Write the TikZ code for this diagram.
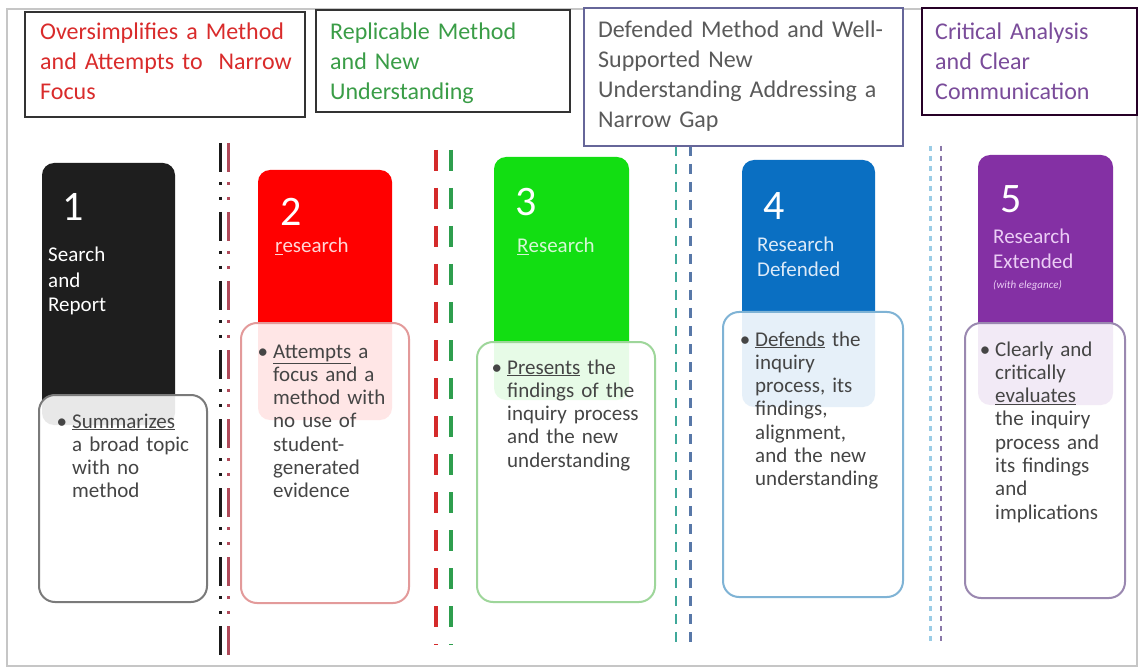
\documentclass[tikz,border=0pt]{standalone}
\usepackage{fontspec}
\setmainfont{Carlito}
\definecolor{hred}{HTML}{D92B2B}
\definecolor{hgreen}{HTML}{3A9D47}
\definecolor{hgray}{HTML}{5A5A5A}
\definecolor{hpurple}{HTML}{7A4C9A}
\definecolor{cardone}{HTML}{1E1E1E}
\definecolor{cardtwo}{HTML}{FF0000}
\definecolor{cardthree}{HTML}{12DE12}
\definecolor{cardfour}{HTML}{0A6FC2}
\definecolor{cardfive}{HTML}{8430A4}
\definecolor{boxone}{HTML}{7A7A7A}
\definecolor{boxtwo}{HTML}{E39A9A}
\definecolor{boxthree}{HTML}{9ED69A}
\definecolor{boxfour}{HTML}{7FB3D5}
\definecolor{boxfive}{HTML}{9A88B0}
\definecolor{sepblack}{HTML}{1A1A1A}
\definecolor{sepwine}{HTML}{B04A5A}
\definecolor{sepred}{HTML}{D42A2A}
\definecolor{sepgreen}{HTML}{2E9E4E}
\definecolor{septeal}{HTML}{3FA89A}
\definecolor{sepblue}{HTML}{5878A8}
\definecolor{sepsky}{HTML}{9ACCE6}
\definecolor{seplilac}{HTML}{8A78A8}
\definecolor{bodygray}{HTML}{454545}
\definecolor{labtwo}{HTML}{FFD6D6}
\definecolor{labthree}{HTML}{D4F8D4}
\definecolor{labfour}{HTML}{DCEAF8}
\definecolor{labfive}{HTML}{EBCDF5}

\begin{document}
\begin{tikzpicture}[x=1pt,y=-1pt]
   \tikzset{HeadBox/.style={line width=2pt, draw=black!80, fill=white}}
   \tikzset{HeadText/.style={anchor=base west, inner sep=0pt, text width=300pt, align=left, font=\fontsize{24}{30}\selectfont}}
   \tikzset{NumText/.style={anchor=base west, inner sep=0pt, font=\fontsize{42}{42}\selectfont}}
   \tikzset{CardText/.style={anchor=base west, inner sep=0pt, text width=120pt, align=left, font=\fontsize{21}{25}\selectfont}}
   \tikzset{BodyText/.style={anchor=base west, inner sep=0pt, text width=170pt, align=left, text=bodygray, font=\fontsize{21}{23.3}\selectfont}}
   \tikzset{Card/.style={rounded corners=12pt}}
   \tikzset{WhiteBox/.style={line width=2pt, fill=white, fill opacity=0.9, rounded corners=16pt}}
   \newcommand{\blt}{\leavevmode\llap{\textbullet\hspace{5pt}}}

   \fill[white] (0,0) rectangle (1143,668);
   \useasboundingbox (0,0) rectangle (1143,668);
   \draw[gray!45, line width=1.5pt] (7,9) rectangle (1137,666);

   \draw[sepblack, line width=3pt, dash pattern=on 29pt off 10pt on 3pt off 12pt on 3pt off 12pt] (220,143) -- (220,662);
   \draw[sepwine, line width=3pt, dash pattern=on 29pt off 10pt on 3pt off 12pt on 3pt off 12pt] (228,143) -- (228,662);
   \draw[sepred, line width=4pt, dash pattern=on 21pt off 17pt] (436,150) -- (436,645);
   \draw[sepgreen, line width=4pt, dash pattern=on 21pt off 17pt] (451,150) -- (451,645);
   \draw[septeal, line width=2.5pt, dash pattern=on 10pt off 8pt] (676,146) -- (676,642);
   \draw[sepblue, line width=3pt, dash pattern=on 10pt off 8pt] (690,146) -- (690,642);
   \draw[sepsky, line width=3pt, dash pattern=on 5pt off 5pt] (930,146) -- (930,643);
   \draw[seplilac, line width=2pt, dash pattern=on 5pt off 5pt] (941,146) -- (941,643);

   \draw[HeadBox] (25,12) rectangle (305,117);
   \draw[HeadBox] (316,10) rectangle (570,112);
   \draw[HeadBox, draw=gray!80!blue, line width=1.5pt] (584,8) rectangle (903,146);
   \draw[HeadBox, draw=black!70!violet] (922,8) rectangle (1137,115);
   \node[HeadText, text=hred] (h1) at (40,40) {Oversimplifies a Method\\and Attempts to~~Narrow\\Focus};
   \node[HeadText, text=hgreen] (h2) at (330,40) {Replicable Method\\and New\\Understanding};
   \node[HeadText, text=hgray] (h3) at (598,38) {Defended Method and Well-\\Supported New\\Understanding Addressing a\\Narrow Gap};
   \node[HeadText, text=hpurple] (h4) at (935,40) {Critical Analysis\\and Clear\\Communication};

   \fill[Card, cardone] (42,163) rectangle (175,425);
   \fill[Card, cardtwo] (258,170) rectangle (392,420);
   \fill[Card, cardthree] (494,157) rectangle (629,400);
   \fill[Card, cardfour] (742,160) rectangle (875,407);
   \fill[Card, cardfive] (978,155) rectangle (1113,405);
   \draw[WhiteBox, draw=boxone] (39,395) rectangle (207,602);
   \draw[WhiteBox, draw=boxtwo] (241,323) rectangle (409,603);
   \draw[WhiteBox, draw=boxthree] (477,342) rectangle (655,602);
   \draw[WhiteBox, draw=boxfour] (723,312) rectangle (903,597);
   \draw[WhiteBox, draw=boxfive] (965,323) rectangle (1125,598);

   \node[NumText, text=white] (n1) at (62,221) {1};
   \node[CardText, text=white] (l1) at (48,262) {Search\\and\\Report};
   \node[NumText, text=white] (n2) at (280,226) {2};
   \node[CardText, text=labtwo] (l2) at (275,253) {\underline{r}esearch};
   \node[NumText, text=white] (n3) at (515,216) {3};
   \node[CardText, text=labthree] (l3) at (517,253) {\underline{R}esearch};
   \node[NumText, text=white] (n4) at (763,220) {4};
   \node[CardText, text=labfour] (l4) at (757,252) {Research\\Defended};
   \node[NumText, text=white] (n5) at (1000,213) {5};
   \node[CardText, text=labfive] (l5) at (993,244) {Research\\Extended};
   \node[anchor=base west, inner sep=0pt, text=labfive, font=\fontsize{11}{11}\selectfont\itshape] (e5) at (993,289) {(with elegance)};

   \node[BodyText] (t1) at (72,428) {\blt\underline{Summarizes}\\a broad topic\\with no\\method};
   \node[BodyText] (t2) at (273,358) {\blt\underline{Attempts} a\\focus and a\\method with\\no use of\\student-\\generated\\evidence};
   \node[BodyText] (t3) at (507,374) {\blt\underline{Presents} the\\findings of the\\inquiry process\\and the new\\understanding};
   \node[BodyText] (t4) at (755,346) {\blt\underline{Defends} the\\inquiry\\process, its\\findings,\\alignment,\\and the new\\understanding};
   \node[BodyText] (t5) at (995,356) {\blt Clearly and\\critically\\\underline{evaluates}\\the inquiry\\process and\\its findings\\and\\implications};
\end{tikzpicture}
\end{document}
